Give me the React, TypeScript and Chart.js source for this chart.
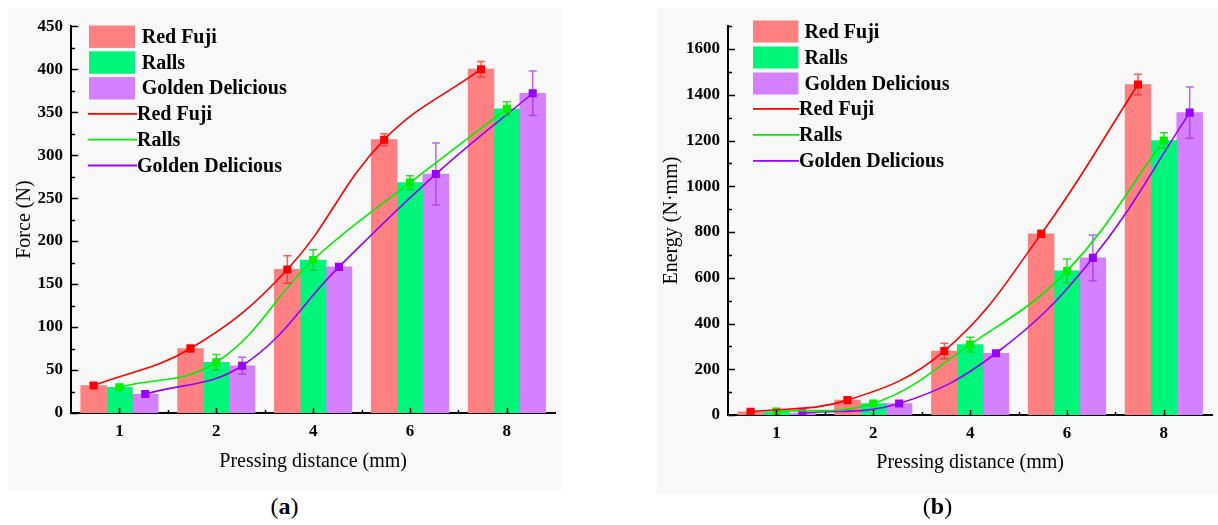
import React, { useEffect, useRef } from 'react';
import { Chart, registerables } from 'chart.js';

Chart.register(...registerables);

// ---------- data ----------
const categories = ['1', '2', '4', '6', '8'];
const seriesNames = ['Red Fuji', 'Ralls', 'Golden Delicious'];

const forceRedFuji = [32, 75, 167, 318, 400];
const forceRalls = [30, 59, 178, 268, 354];
const forceGolden = [22, 55, 170, 278, 372];
const forceRedFujiErr = [3, 4, 16, 7, 9];
const forceRallsErr = [2, 9, 12, 8, 8];
const forceGoldenErr = [2, 10, 2, 36, 26];

const energyRedFuji = [14, 65, 280, 792, 1445];
const energyRalls = [15, 50, 308, 630, 1200];
const energyGolden = [8, 50, 270, 687, 1322];
const energyRedFujiErr = [5, 8, 34, 15, 45];
const energyRallsErr = [5, 8, 32, 52, 34];
const energyGoldenErr = [3, 6, 8, 100, 112];

const forceAxis = { max: 450, step: 50, minor: 25 };
const energyAxis = { max: 1700, step: 200, minor: 100 };

// ---------- styles ----------
const SERIF = '"Liberation Serif", "Times New Roman", serif';
const barColors = ['#ff8080', '#00f57a', '#d580ff'];
const lineColors = ['#ff0000', '#00ee00', '#9900ff'];
const errColors = ['rgba(255,40,40,0.75)', 'rgba(0,210,0,0.8)', 'rgba(160,40,255,0.7)'];
const GROUP_FRACTION = 0.8; // fraction of a category taken by the bar group

type PanelCfg = {
  values: number[][];
  errors: number[][];
  axis: { max: number; step: number; minor: number };
  yTitle: string;
  width: number;
  height: number;
  padTop: number;
  yAxisW: number;
  xAxisH: number;
  xTitlePad: number;
  yTitlePad: number;
  legend: { boxX: number; boxW: number; boxY0: number; boxH: number; row: number; textGap: number; lineX0: number; lineX1: number; lineY0: number };
};

const panelA: PanelCfg = {
  values: [forceRedFuji, forceRalls, forceGolden],
  errors: [forceRedFujiErr, forceRallsErr, forceGoldenErr],
  axis: forceAxis,
  yTitle: 'Force (N)',
  width: 553,
  height: 482,
  padTop: 12,
  yAxisW: 63,
  xAxisH: 77,
  xTitlePad: 16,
  yTitlePad: 5,
  legend: { boxX: 18, boxW: 46, boxY0: -0.7, boxH: 22.4, row: 25.8, textGap: 6.7, lineX0: 17, lineX1: 66, lineY0: 87.7 },
};

const panelB: PanelCfg = {
  values: [energyRedFuji, energyRalls, energyGolden],
  errors: [energyRedFujiErr, energyRallsErr, energyGoldenErr],
  axis: energyAxis,
  yTitle: 'Energy (N·mm)',
  width: 561,
  height: 486,
  padTop: 11,
  yAxisW: 71,
  xAxisH: 79,
  xTitlePad: 19,
  yTitlePad: 3,
  legend: { boxX: 25, boxW: 45.4, boxY0: -5.7, boxH: 22, row: 26, textGap: 6, lineX0: 25, lineX1: 71, lineY0: 82.7 },
};

function buildChart(canvas: HTMLCanvasElement, p: PanelCfg) {
  const nSeries = seriesNames.length;
  const offsets = seriesNames.map((_, j) => (j - (nSeries - 1) / 2) * (GROUP_FRACTION / nSeries));
  const datasets: any[] = [];
  p.values.forEach((vals, j) => {
    datasets.push({
      type: 'bar',
      label: seriesNames[j],
      data: vals.map((v, i) => ({ x: i + offsets[j], y: v })),
      backgroundColor: barColors[j],
      borderWidth: 0,
      grouped: false,
      categoryPercentage: 1,
      barPercentage: 1,
      xAxisID: 'xl',
      yAxisID: 'y',
      order: 2,
    });
  });
  p.values.forEach((vals, j) => {
    datasets.push({
      type: 'line',
      label: seriesNames[j],
      data: vals.map((v, i) => ({ x: i + offsets[j], y: v })),
      borderColor: lineColors[j],
      backgroundColor: lineColors[j],
      borderWidth: 1.6,
      pointStyle: 'rect',
      pointRadius: 5.7,
      pointBorderWidth: 0,
      tension: 0.4,
      fill: false,
      xAxisID: 'xl',
      yAxisID: 'y',
      order: 1,
      errors: p.errors[j],
      errColor: errColors[j],
    });
  });

  const errorBars = {
    id: 'errorBars',
    beforeDatasetDraw(chart: any, args: any) {
      const ds = chart.data.datasets[args.index];
      if (!ds.errors) return;
      const ctx = chart.ctx;
      const ys = chart.scales.y;
      ctx.save();
      ctx.strokeStyle = ds.errColor;
      ctx.lineWidth = 1.5;
      args.meta.data.forEach((pt: any, i: number) => {
        const v = ds.data[i].y;
        const e = ds.errors[i];
        const yt = ys.getPixelForValue(v + e);
        const yb = ys.getPixelForValue(v - e);
        ctx.beginPath();
        ctx.moveTo(pt.x, yt);
        ctx.lineTo(pt.x, yb);
        ctx.moveTo(pt.x - 4, yt);
        ctx.lineTo(pt.x + 4, yt);
        ctx.moveTo(pt.x - 4, yb);
        ctx.lineTo(pt.x + 4, yb);
        ctx.stroke();
      });
      ctx.restore();
    },
  };

  const tickMarks = {
    id: 'tickMarks',
    afterDraw(chart: any) {
      const ctx = chart.ctx;
      const { left, bottom } = chart.chartArea;
      const ys = chart.scales.y;
      const xs = chart.scales.x;
      ctx.save();
      ctx.strokeStyle = '#000';
      ctx.lineWidth = 1.5;
      ctx.beginPath();
      for (let v = 0; v <= p.axis.max + 1e-6; v += p.axis.minor) {
        const y = Math.round(ys.getPixelForValue(v)) + 0.5;
        const len = v % p.axis.step === 0 ? 7 : 4;
        ctx.moveTo(left, y);
        ctx.lineTo(left + len, y);
      }
      const n = categories.length;
      for (let i = 0; i < n; i++) {
        const x = Math.round(xs.getPixelForValue(i)) + 0.5;
        ctx.moveTo(x, bottom);
        ctx.lineTo(x, bottom - 5);
        if (i < n - 1) {
          const xm = Math.round((xs.getPixelForValue(i) + xs.getPixelForValue(i + 1)) / 2) + 0.5;
          ctx.moveTo(xm, bottom);
          ctx.lineTo(xm, bottom - 3);
        }
      }
      ctx.stroke();
      ctx.restore();
    },
  };

  const innerLegend = {
    id: 'innerLegend',
    afterDraw(chart: any) {
      const ctx = chart.ctx;
      const { left, top } = chart.chartArea;
      const L = p.legend;
      ctx.save();
      ctx.font = `bold 20px ${SERIF}`;
      ctx.textBaseline = 'middle';
      ctx.textAlign = 'left';
      seriesNames.forEach((name, j) => {
        const by = top + L.boxY0 + j * L.row;
        ctx.fillStyle = barColors[j];
        ctx.fillRect(left + L.boxX, by, L.boxW, L.boxH);
        ctx.fillStyle = '#000';
        ctx.fillText(name, left + L.boxX + L.boxW + L.textGap, by + L.boxH / 2 + 1);
      });
      seriesNames.forEach((name, j) => {
        const ly = top + L.lineY0 + j * L.row;
        ctx.strokeStyle = lineColors[j];
        ctx.lineWidth = 1.8;
        ctx.beginPath();
        ctx.moveTo(left + L.lineX0, ly);
        ctx.lineTo(left + L.lineX1, ly);
        ctx.stroke();
        ctx.fillStyle = '#000';
        ctx.fillText(name, left + L.lineX1, ly + 1);
      });
      ctx.restore();
    },
  };

  return new Chart(canvas, {
    type: 'bar',
    data: { labels: categories, datasets },
    options: {
      responsive: false,
      animation: false,
      devicePixelRatio: 1,
      layout: { padding: { top: p.padTop, left: 0, right: 0, bottom: 0 } },
      plugins: { legend: { display: false }, tooltip: { enabled: false } },
      scales: {
        x: {
          type: 'category',
          labels: categories,
          offset: true,
          grid: { display: false, drawTicks: false },
          border: { display: true, color: '#000', width: 2 },
          ticks: { color: '#000', font: { family: SERIF, size: 17, weight: 'bold' }, padding: 8, maxRotation: 0 },
          title: {
            display: true,
            text: 'Pressing distance (mm)',
            color: '#000',
            font: { family: SERIF, size: 20 },
            padding: { top: 0, bottom: p.xTitlePad },
          },
          afterFit: (s: any) => {
            s.height = p.xAxisH;
          },
        },
        xl: {
          type: 'linear',
          axis: 'x',
          position: 'bottom',
          display: false,
          offset: false,
          grid: { offset: false },
          min: -0.5,
          max: categories.length - 0.5,
        },
        y: {
          type: 'linear',
          min: 0,
          max: p.axis.max,
          grid: { display: false, drawTicks: false },
          border: { display: true, color: '#000', width: 2 },
          ticks: {
            stepSize: p.axis.step,
            color: '#000',
            font: { family: SERIF, size: 17, weight: 'bold' },
            padding: 8,
            callback: (v: any) => String(v),
          },
          afterBuildTicks: (s: any) => {
            s.ticks = s.ticks.filter((t: any) => t.value % p.axis.step === 0);
          },
          title: {
            display: true,
            text: p.yTitle,
            color: '#000',
            font: { family: SERIF, size: 20 },
            padding: { top: p.yTitlePad, bottom: 0 },
          },
          afterFit: (s: any) => {
            s.width = p.yAxisW;
          },
        },
      } as any,
    } as any,
    plugins: [errorBars, tickMarks, innerLegend],
  } as any);
}

function Panel({ cfg, left, top, label }: { cfg: PanelCfg; left: number; top: number; label: string }) {
  const ref = useRef<HTMLCanvasElement>(null);
  useEffect(() => {
    if (!ref.current) return;
    const chart = buildChart(ref.current, cfg);
    return () => chart.destroy();
  }, [cfg]);
  return (
    <>
      <div style={{ position: 'absolute', left, top, width: cfg.width, height: cfg.height, background: '#f8f8f8' }}>
        <canvas ref={ref} width={cfg.width} height={cfg.height} style={{ display: 'block' }} />
      </div>
      <div
        style={{
          position: 'absolute',
          left,
          top: 492,
          width: cfg.width,
          textAlign: 'center',
          fontFamily: SERIF,
          fontSize: 24,
          lineHeight: '28px',
          color: '#000',
        }}
      >
        (<b>{label}</b>)
      </div>
    </>
  );
}

export default function App() {
  return (
    <div style={{ position: 'absolute', left: 0, top: 0, width: 1218, height: 525, background: '#fff', overflow: 'hidden' }}>
      <Panel cfg={panelA} left={8} top={8} label="a" />
      <Panel cfg={panelB} left={657} top={8} label="b" />
    </div>
  );
}
